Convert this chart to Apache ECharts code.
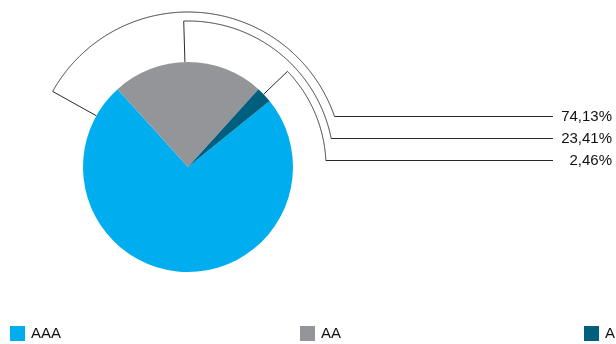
<!DOCTYPE html>
<html>
<head>
<meta charset="utf-8">
<script src="https://cdn.jsdelivr.net/npm/echarts@6/dist/echarts.min.js"></script>
<style>
html,body{margin:0;padding:0;background:#fff;}
#chart{width:616px;height:344px;}
</style>
</head>
<body>
<div id="chart"></div>
<script>
// ---- data ----
const categories = ['AAA', 'AA', 'A'];
const values = [74.13, 23.41, 2.46];

// ---- layout / style ----
const colors = ['#00AEEF', '#939598', '#005F7F'];
const CX = 188, CY = 167, PIE_R = 105;
const START_ANGLE = 39;
const leaderFrac = [0.93, 0.48, 0.45];   // where on each slice the leader starts
const leaderR = [155, 146, 138];         // radius of each leader arc
const labelRowY = [116.5, 138.5, 160.5]; // y of each label row
const LINE_END_X = 553, LABEL_X = 612;
const FONT = '"Liberation Sans", Arial, Helvetica, sans-serif';

const total = values.reduce((a, b) => a + b, 0);
const starts = [];
values.reduce((acc, v, i) => { starts[i] = acc; return acc + v; }, 0);
const fmt = v => v.toFixed(2).replace('.', ',') + '%';

const chart = echarts.init(document.getElementById('chart'), null, {renderer: 'canvas'});

function renderLeader(params, api) {
  const i = params.dataIndex;
  const pct = v => (v / total) * 100;
  const a0 = pct(starts[i] + leaderFrac[i] * values[i]);
  const R = leaderR[i];
  const ly = labelRowY[i];
  const pts = [api.coord([PIE_R, a0]), api.coord([R, a0])];
  let a = a0;
  for (let k = 0; k < 2000; k++) {
    a += 0.05;
    const p = api.coord([R, a % 100]);
    if (p[0] > CX && p[1] >= ly) {
      const prev = pts[pts.length - 1];
      const t = (ly - prev[1]) / (p[1] - prev[1]);
      pts.push([prev[0] + t * (p[0] - prev[0]), ly]);
      break;
    }
    pts.push(p);
  }
  pts.push([LINE_END_X, ly]);
  return {
    type: 'group',
    children: [
      {
        type: 'polyline',
        shape: {points: pts},
        style: {stroke: '#2a2a2a', lineWidth: 1, fill: null}
      },
      {
        type: 'text',
        x: LABEL_X, y: ly,
        style: {
          text: fmt(values[i]),
          align: 'right', verticalAlign: 'middle',
          font: '15px ' + FONT,
          fill: '#111111'
        }
      }
    ]
  };
}

const legendLeft = [10, 300, 584];

chart.setOption({
  animation: false,
  color: colors,
  textStyle: {fontFamily: FONT},
  polar: {center: [CX, CY], radius: 160},
  angleAxis: {type: 'value', min: 0, max: 100, startAngle: START_ANGLE, clockwise: true, show: false},
  radiusAxis: {type: 'value', min: 0, max: 160, show: false},
  legend: categories.map((c, i) => ({
    data: [c],
    left: legendLeft[i],
    top: 326,
    padding: 0,
    itemWidth: 15,
    itemHeight: 15,
    itemGap: 5,
    icon: 'rect',
    selectedMode: false,
    textStyle: {fontSize: 15, color: '#111111', fontFamily: FONT, padding: [0, 0, 0, 1]}
  })),
  series: [
    {
      type: 'custom',
      coordinateSystem: 'polar',
      silent: true,
      z: 1,
      data: values.map((v, i) => [0, starts[i] / total * 100]),
      renderItem: renderLeader
    },
    {
      type: 'pie',
      z: 2,
      center: [CX, CY],
      radius: PIE_R,
      startAngle: START_ANGLE,
      clockwise: true,
      label: {show: false},
      labelLine: {show: false},
      emphasis: {disabled: true},
      itemStyle: {borderWidth: 0},
      data: categories.map((c, i) => ({name: c, value: values[i]}))
    }
  ]
});
</script>
</body>
</html>
